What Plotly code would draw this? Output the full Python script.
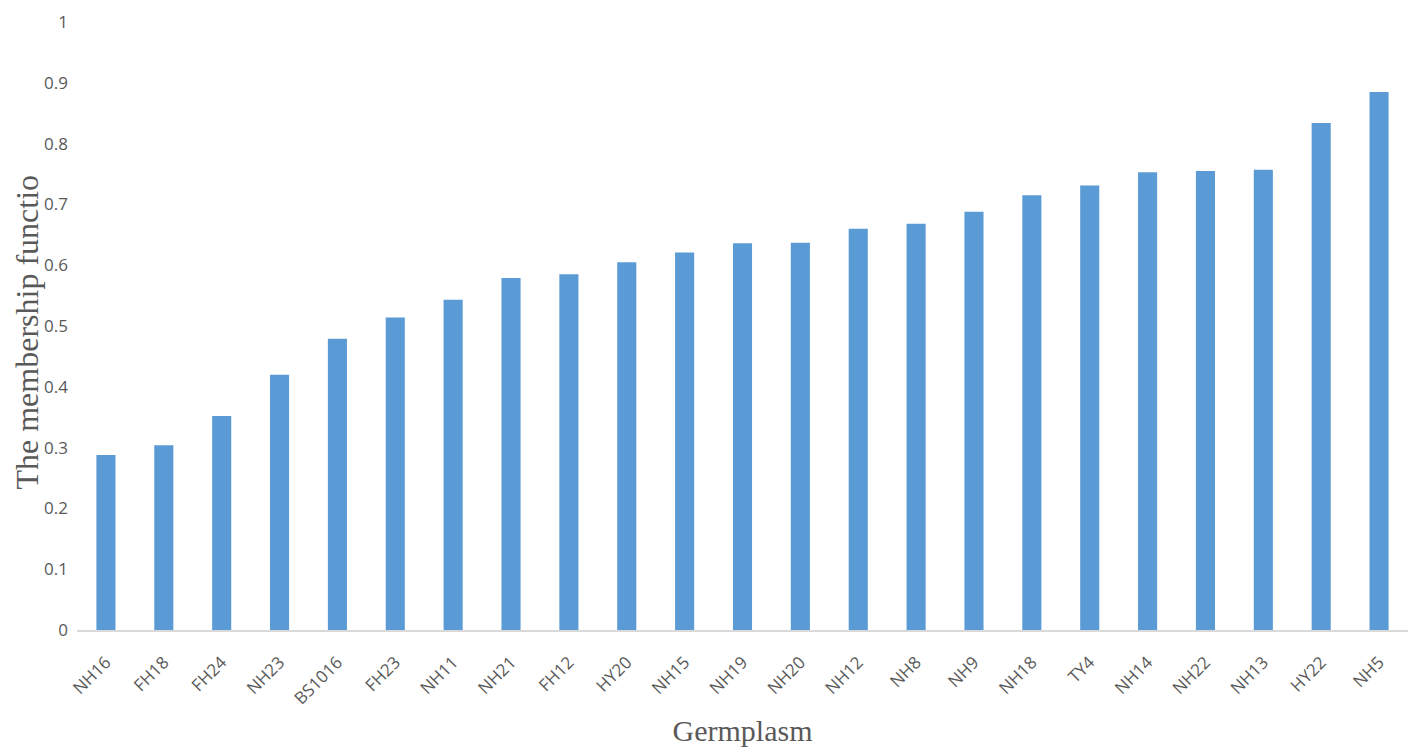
import plotly.graph_objects as go

categories = ["NH16", "FH18", "FH24", "NH23", "BS1016", "FH23", "NH11", "NH21", "FH12", "HY20",
              "NH15", "NH19", "NH20", "NH12", "NH8", "NH9", "NH18", "TY4", "NH14", "NH22",
              "NH13", "HY22", "NH5"]
values = [0.288, 0.304, 0.352, 0.420, 0.479, 0.514, 0.543, 0.579, 0.585, 0.605,
          0.621, 0.636, 0.637, 0.660, 0.668, 0.688, 0.715, 0.731, 0.753, 0.755,
          0.757, 0.834, 0.885]
y_ticks = [0, 0.1, 0.2, 0.3, 0.4, 0.5, 0.6, 0.7, 0.8, 0.9, 1]
y_tick_labels = ["0", "0.1", "0.2", "0.3", "0.4", "0.5", "0.6", "0.7", "0.8", "0.9", "1"]
y_title = "The membership functio"
x_title = "Germplasm"

fig = go.Figure(go.Bar(x=categories, y=values, marker=dict(color="#5B9BD5", line=dict(width=0)),
                       width=0.33))

fig.update_layout(
    width=1418, height=752,
    margin=dict(l=69, r=18, t=14, b=130),
    plot_bgcolor="white", paper_bgcolor="white",
    showlegend=False,
    xaxis=dict(
        automargin=False,
        tickangle=-45, tickfont=dict(family="Open Sans", size=17, color="#595959"),
        showline=True, linecolor="#D9D9D9", linewidth=1.5, showgrid=False, ticks="",
        ticklabelstandoff=14,
        title=dict(text=x_title, font=dict(family="Liberation Serif", size=30, color="#595959"), standoff=12),
    ),
    yaxis=dict(
        automargin=False,
        range=[0, 1], tickvals=y_ticks, ticktext=y_tick_labels,
        tickfont=dict(family="Open Sans", size=17, color="#595959"),
        showgrid=False, zeroline=False, showline=False, ticks="",
        ticklabelstandoff=8, ticklabeloverflow="allow",
    ),
    annotations=[dict(
        text=y_title, textangle=-90, showarrow=False,
        xref="paper", yref="paper", x=-0.0515, y=0.49, xanchor="left", yanchor="middle",
        borderpad=0,
        font=dict(family="Liberation Serif", size=32, color="#595959"),
    )],
)

fig.write_html("out.html")
